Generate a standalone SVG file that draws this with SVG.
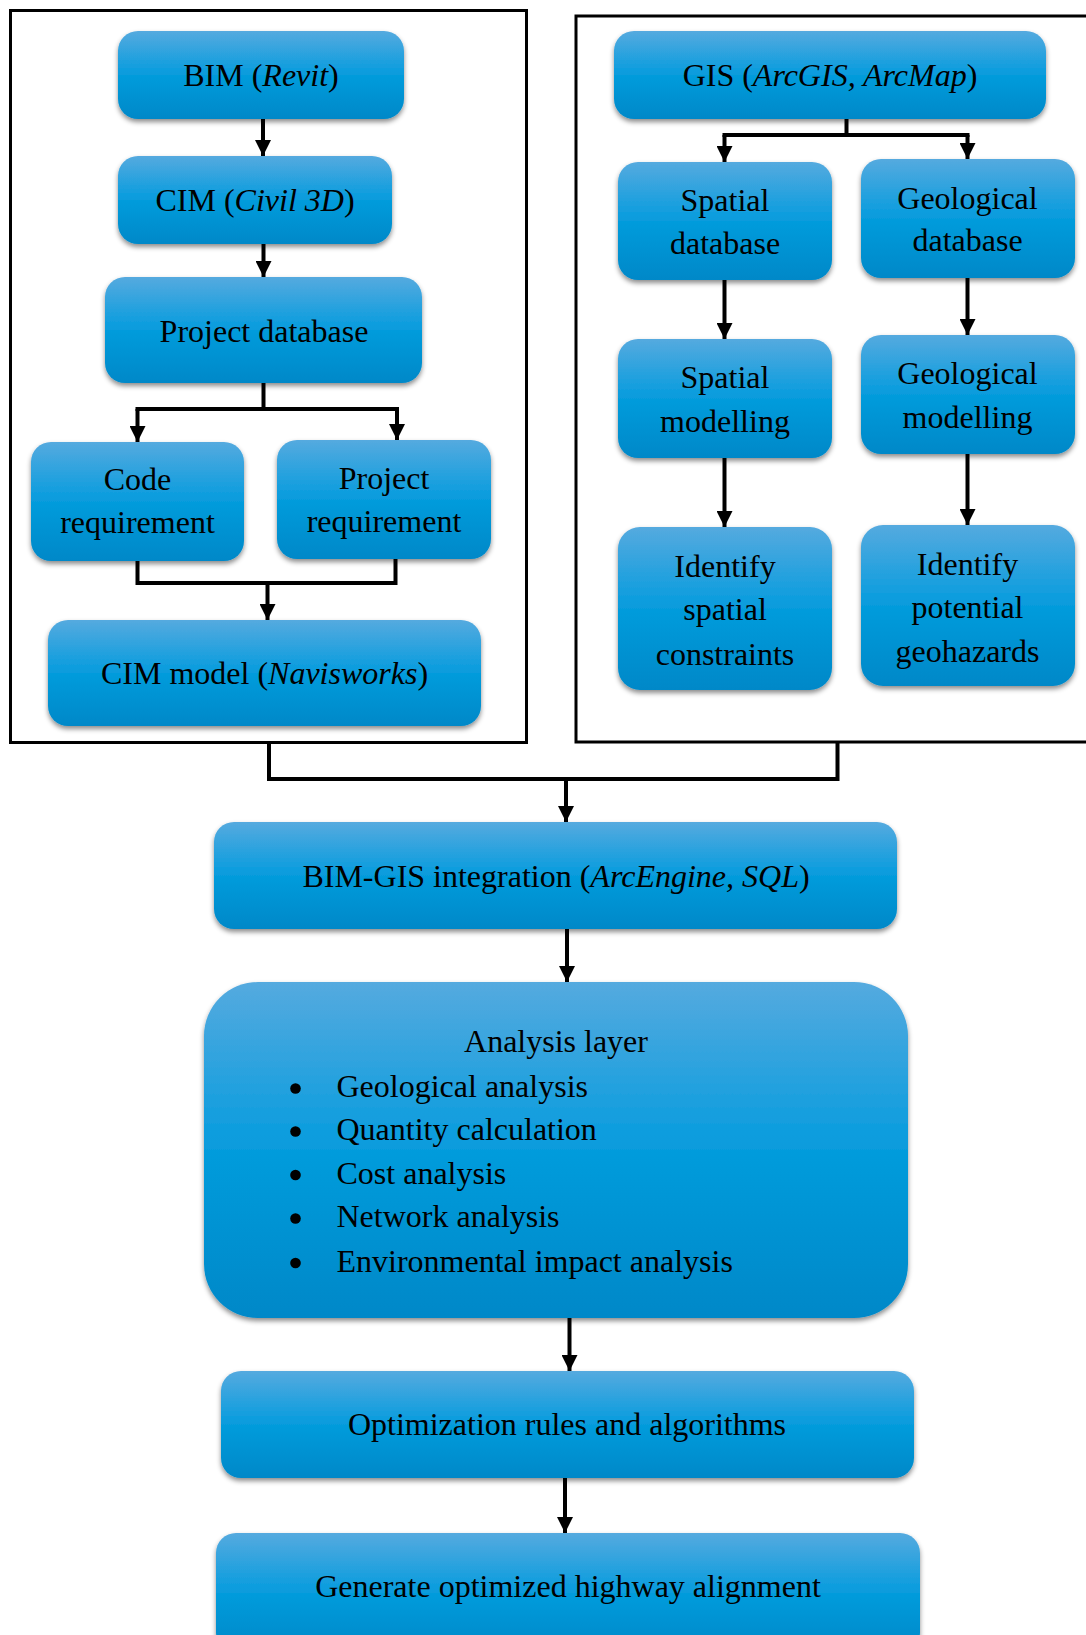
<svg xmlns="http://www.w3.org/2000/svg" width="1086" height="1635" viewBox="0 0 1086 1635">
<defs>
<linearGradient id="blue" x1="0" y1="0" x2="0" y2="1">
<stop offset="0" stop-color="#55aadf"/>
<stop offset="0.45" stop-color="#0d9dde"/>
<stop offset="0.55" stop-color="#009ada"/>
<stop offset="1" stop-color="#0088c8"/>
</linearGradient>
<filter id="shadow" x="-10%" y="-10%" width="120%" height="130%">
<feDropShadow dx="0" dy="3" stdDeviation="2.5" flood-color="#000" flood-opacity="0.45"/>
</filter>
<marker id="arrow" markerUnits="userSpaceOnUse" markerWidth="16" markerHeight="16" refX="16" refY="8" orient="auto">
<path d="M0,0 L16,8 L0,16 Z" fill="#000"/>
</marker>
</defs>
<style>
.box{fill:url(#blue);filter:url(#shadow);}
.frame{fill:none;stroke:#000;stroke-width:3;}
.t{font-family:"Liberation Serif","Times New Roman",serif;font-size:32px;fill:#000;text-anchor:middle;}
.tl{font-family:"Liberation Serif","Times New Roman",serif;font-size:32px;fill:#000;}
.i{font-style:italic;}
.c{fill:none;stroke:#000;stroke-width:4;stroke-linecap:square;}
.a{fill:none;stroke:#000;stroke-width:4;marker-end:url(#arrow);}
</style>
<rect fill="#fff" x="0" y="0" width="1086" height="1635"/>

<g id="frames">
<rect class="frame" x="10.5" y="10.5" width="516" height="732"/>
<rect class="frame" x="576" y="16" width="530" height="726"/>
</g>

<g id="connectors">
<path class="a" d="M263,119 V156"/>
<path class="a" d="M263.5,244 V277"/>
<path class="c" d="M263.5,383 V409"/>
<path class="c" d="M137.5,409 H397"/>
<path class="a" d="M137.5,409 V442"/>
<path class="a" d="M397,409 V440"/>
<path class="c" d="M137.5,561 V583 H395.5 V559"/>
<path class="a" d="M267.5,583 V620"/>
<path class="c" d="M269,743 V779 H837.5 V743"/>
<path class="a" d="M566,779 V822"/>
<path class="c" d="M846.5,119 V135"/>
<path class="c" d="M724.5,135 H967.5"/>
<path class="a" d="M724.5,135 V162"/>
<path class="a" d="M967.5,135 V159"/>
<path class="a" d="M724.5,280 V339"/>
<path class="a" d="M967.5,278 V335"/>
<path class="a" d="M724.5,458 V527"/>
<path class="a" d="M967.5,454 V525"/>
<path class="a" d="M567,929 V982"/>
<path class="a" d="M569.5,1318 V1371"/>
<path class="a" d="M565,1478 V1533"/>
</g>

<g id="bim">
<rect class="box" x="118" y="31" width="286" height="88" rx="20"/>
<text class="t" x="261" y="86">BIM (<tspan class="i">Revit</tspan>)</text>
</g>
<g id="cim">
<rect class="box" x="118" y="156" width="274" height="88" rx="20"/>
<text class="t" x="255" y="211">CIM (<tspan class="i">Civil 3D</tspan>)</text>
</g>
<g id="project-database">
<rect class="box" x="105" y="277" width="317" height="106" rx="20"/>
<text class="t" x="264" y="341.5">Project database</text>
</g>
<g id="code-requirement">
<rect class="box" x="31" y="442" width="213" height="119" rx="20"/>
<text class="t" x="137.5" y="489.5">Code</text>
<text class="t" x="137.5" y="533">requirement</text>
</g>
<g id="project-requirement">
<rect class="box" x="277" y="440" width="214" height="119" rx="20"/>
<text class="t" x="384" y="488.5">Project</text>
<text class="t" x="384" y="531.5">requirement</text>
</g>
<g id="cim-model">
<rect class="box" x="48" y="620" width="433" height="106" rx="20"/>
<text class="t" x="264.5" y="683.5">CIM model (<tspan class="i">Navisworks</tspan>)</text>
</g>

<g id="gis">
<rect class="box" x="614" y="31" width="432" height="88" rx="20"/>
<text class="t" x="830" y="86">GIS (<tspan class="i">ArcGIS, ArcMap</tspan>)</text>
</g>
<g id="spatial-database">
<rect class="box" x="618" y="162" width="214" height="118" rx="20"/>
<text class="t" x="725" y="210.5">Spatial</text>
<text class="t" x="725" y="253.5">database</text>
</g>
<g id="geological-database">
<rect class="box" x="861" y="159" width="214" height="119" rx="20"/>
<text class="t" x="967.5" y="208.5">Geological</text>
<text class="t" x="967.5" y="251">database</text>
</g>
<g id="spatial-modelling">
<rect class="box" x="618" y="339" width="214" height="119" rx="20"/>
<text class="t" x="725" y="387.5">Spatial</text>
<text class="t" x="725" y="431.5">modelling</text>
</g>
<g id="geological-modelling">
<rect class="box" x="861" y="335" width="214" height="119" rx="20"/>
<text class="t" x="967.5" y="384">Geological</text>
<text class="t" x="967.5" y="428">modelling</text>
</g>
<g id="identify-spatial-constraints">
<rect class="box" x="618" y="527" width="214" height="163" rx="22"/>
<text class="t" x="725" y="576.5">Identify</text>
<text class="t" x="725" y="620">spatial</text>
<text class="t" x="725" y="665">constraints</text>
</g>
<g id="identify-potential-geohazards">
<rect class="box" x="861" y="525" width="214" height="161" rx="22"/>
<text class="t" x="967.5" y="575">Identify</text>
<text class="t" x="967.5" y="618">potential</text>
<text class="t" x="967.5" y="661.5">geohazards</text>
</g>

<g id="bim-gis-integration">
<rect class="box" x="214" y="822" width="683" height="107" rx="20"/>
<text class="t" x="556" y="886.5">BIM-GIS integration (<tspan class="i">ArcEngine, SQL</tspan>)</text>
</g>
<g id="analysis-layer">
<rect class="box" x="204" y="982" width="704" height="336" rx="54"/>
<text class="t" x="556" y="1051.5">Analysis layer</text>
<circle cx="295.5" cy="1088.5" r="5.3"/>
<circle cx="295.5" cy="1131.5" r="5.3"/>
<circle cx="295.5" cy="1175" r="5.3"/>
<circle cx="295.5" cy="1218.5" r="5.3"/>
<circle cx="295.5" cy="1263" r="5.3"/>
<text class="tl" x="336.5" y="1096.5">Geological analysis</text>
<text class="tl" x="336.5" y="1140">Quantity calculation</text>
<text class="tl" x="336.5" y="1183.5">Cost analysis</text>
<text class="tl" x="336.5" y="1227">Network analysis</text>
<text class="tl" x="336.5" y="1271.5">Environmental impact analysis</text>
</g>
<g id="optimization">
<rect class="box" x="221" y="1371" width="693" height="107" rx="20"/>
<text class="t" x="567" y="1435">Optimization rules and algorithms</text>
</g>
<g id="generate">
<rect class="box" x="216" y="1533" width="704" height="120" rx="20"/>
<text class="t" x="568" y="1596.5">Generate optimized highway alignment</text>
</g>
</svg>
